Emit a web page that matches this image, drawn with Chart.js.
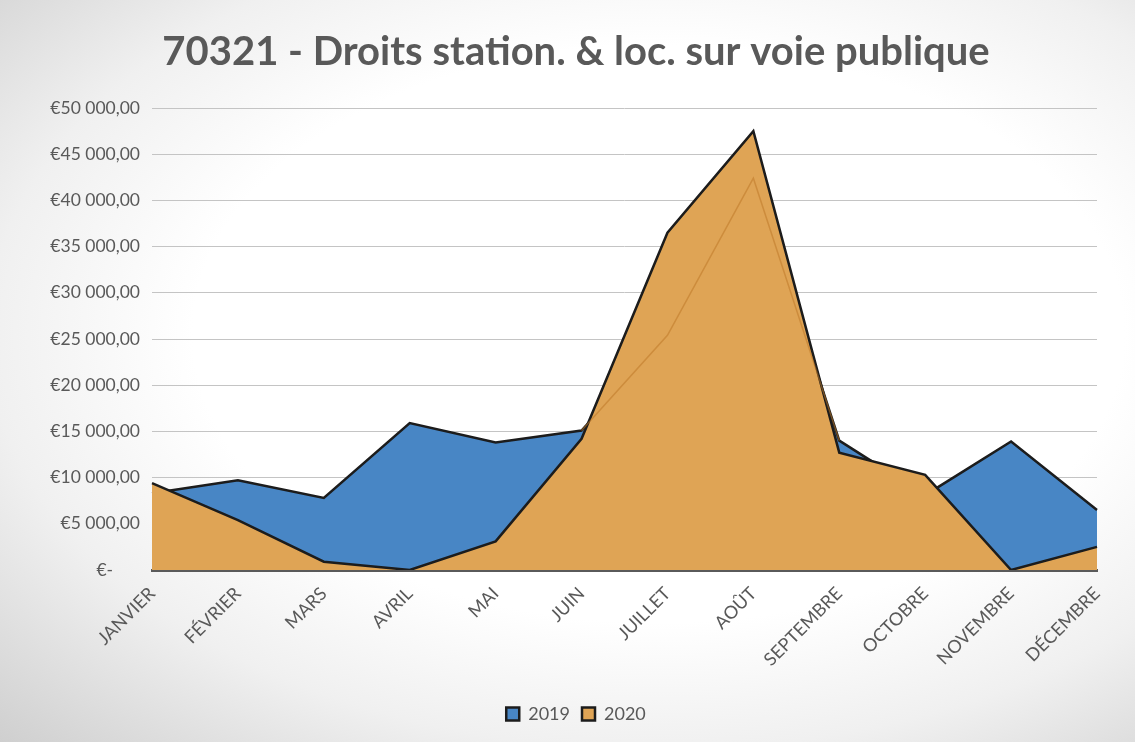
<!DOCTYPE html>
<html lang="fr">
<head>
<meta charset="utf-8">
<title>70321 - Droits station. & loc. sur voie publique</title>
<script src="https://cdn.jsdelivr.net/npm/chart.js@4/dist/chart.umd.min.js"></script>
<style>
  html, body { margin: 0; padding: 0; }
  #wrap {
    width: 1135px; height: 742px; position: relative;
    background: radial-gradient(ellipse at 58% 45%, #ffffff 50%, #f0f0f0 72%, #cfcfcf 100%);
  }
</style>
</head>
<body>
<div id="wrap"><canvas id="chart" width="1135" height="742"></canvas></div>
<script>
const months = ['JANVIER', 'FÉVRIER', 'MARS', 'AVRIL', 'MAI', 'JUIN', 'JUILLET', 'AOÛT', 'SEPTEMBRE', 'OCTOBRE', 'NOVEMBRE', 'DÉCEMBRE'];
const values2019 = [8300, 9700, 7800, 15900, 13800, 15100, 25400, 42400, 14000, 8100, 13900, 6500];
const values2020 = [9400, 5400, 900, 0, 3100, 14200, 36500, 47500, 12700, 10300, 0, 2500];
const yTicks = [0, 5000, 10000, 15000, 20000, 25000, 30000, 35000, 40000, 45000, 50000];

const textColor = '#595959';
const fontFamily = 'Lato, "Open Sans", sans-serif';

// format comptable : €50 000,00 / €-
function euro(v) {
  if (v === 0) return '€-      ';
  const s = String(Math.round(v)).replace(/\B(?=(\d{3})+(?!\d))/g, ' ');
  return '€' + s + ',00';
}

new Chart(document.getElementById('chart'), {
  type: 'line',
  data: {
    labels: months,
    datasets: [
      {
        label: '2019',
        data: values2019,
        backgroundColor: '#4886c5',
        borderColor: '#1c1c1c',
        borderWidth: 2.5,
        fill: 'origin',
        tension: 0,
        pointRadius: 0,
        order: 2
      },
      {
        label: '2020',
        data: values2020,
        backgroundColor: '#dfa455',
        borderColor: '#1c1c1c',
        borderWidth: 2.5,
        fill: 'origin',
        tension: 0,
        pointRadius: 0,
        order: 1
      },
      {
        // trace 2019 visible en transparence sous la zone 2020
        label: 'trace2019',
        data: values2019,
        borderColor: 'transparent',
        borderWidth: 1.5,
        fill: false,
        tension: 0,
        pointRadius: 0,
        order: 0,
        segment: {
          borderColor: ctx => (ctx.p0DataIndex >= 5 && ctx.p1DataIndex <= 8) ? 'rgba(190,120,40,0.55)' : 'transparent'
        }
      }
    ]
  },
  options: {
    responsive: false,
    animation: false,
    layout: { padding: { left: 20, right: 3, top: 28, bottom: 9 } },
    plugins: {
      title: {
        display: true,
        text: '70321 - Droits station. & loc. sur voie publique',
        color: textColor,
        font: { family: fontFamily, size: 40, weight: 'bold' },
        padding: { top: 0, bottom: 32 }
      },
      legend: {
        position: 'bottom',
        labels: {
          color: textColor,
          font: { family: fontFamily, size: 18 },
          boxWidth: 13,
          boxHeight: 13,
          padding: 12,
          filter: item => item.text !== 'trace2019',
          sort: (a, b) => a.datasetIndex - b.datasetIndex
        }
      },
      tooltip: { enabled: false }
    },
    scales: {
      x: {
        grid: { display: false },
        border: { display: true, color: '#5a5a5a', width: 3 },
        afterFit: scale => { scale.height = 123; scale.paddingRight = 38; },
        ticks: {
          color: textColor,
          font: { family: fontFamily, size: 18 },
          maxRotation: 45,
          minRotation: 45,
          padding: 5,
          autoSkip: false
        }
      },
      y: {
        min: 0,
        max: 50000,
        afterBuildTicks: scale => { scale.ticks = yTicks.map(v => ({ value: v })); },
        afterFit: scale => { scale.width = 132; },
        grid: { color: '#c4c4c4', lineWidth: 1, drawTicks: false },
        border: { display: false },
        ticks: {
          color: textColor,
          font: { family: fontFamily, size: 17.5 },
          padding: 12,
          callback: v => euro(v)
        }
      }
    }
  }
});
</script>
</body>
</html>
